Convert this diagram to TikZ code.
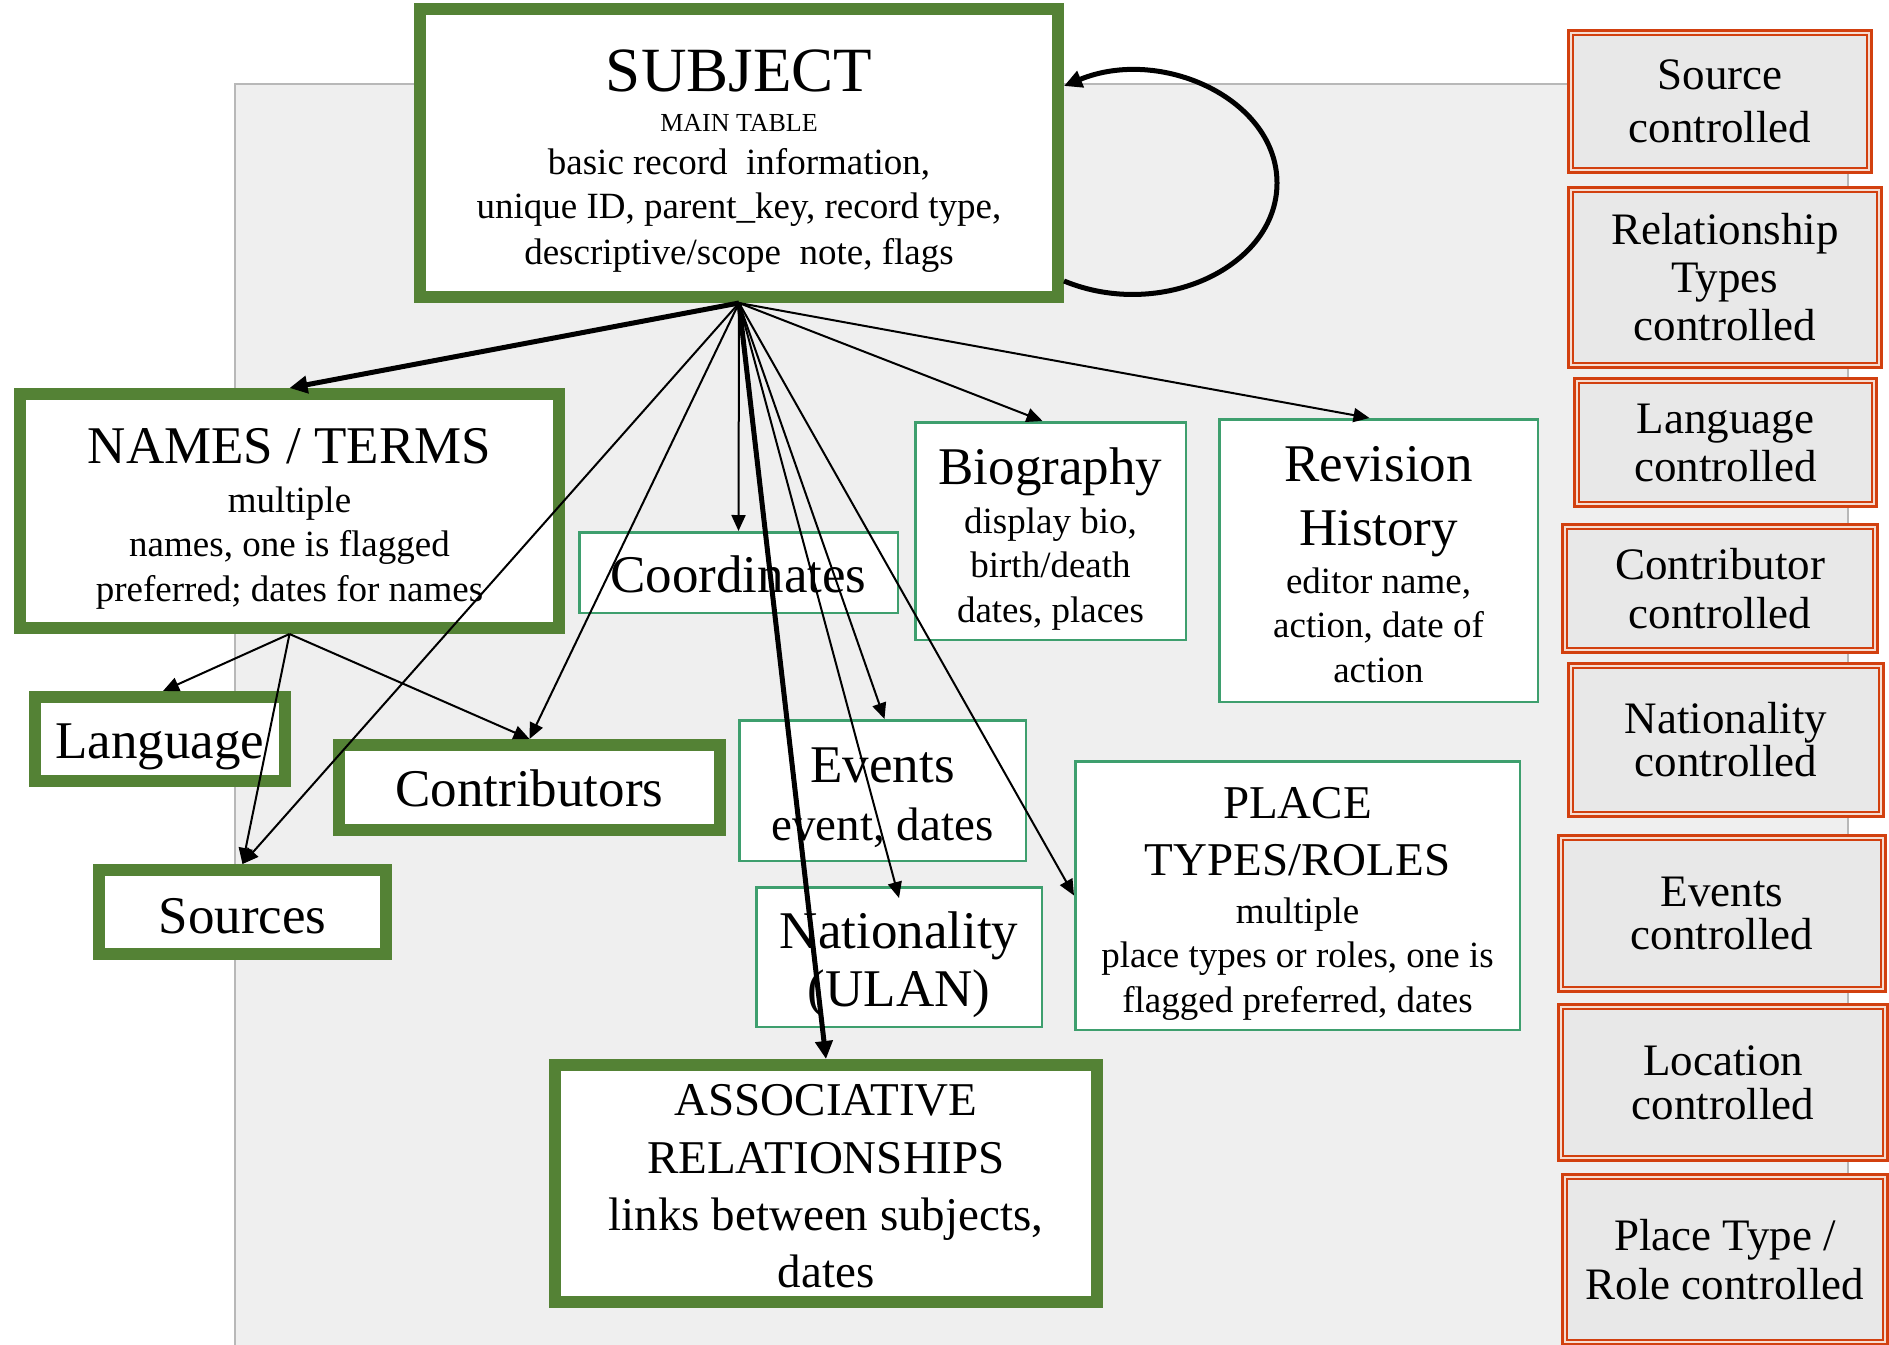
\documentclass[tikz,border=0pt]{standalone}
\usepackage{fontspec}
\setmainfont{Liberation Serif}
\usetikzlibrary{arrows.meta,calc}

\definecolor{boxgreen}{HTML}{548235}
\definecolor{thingreen}{HTML}{3E9F6E}
\definecolor{ctrlred}{HTML}{D2400F}
\definecolor{ctrlgap}{HTML}{F6DDD2}
\definecolor{panelfill}{HTML}{EFEFEF}
\definecolor{panelline}{HTML}{B8B8B8}
\definecolor{ctrlfill}{HTML}{E8E8E8}

\newcommand\fsz[2]{\fontsize{#1}{#2}\selectfont}

\begin{document}
\begin{tikzpicture}[x=1pt,y=-1pt,
  mainbox/.style={draw=boxgreen,line width=12pt,fill=white,inner sep=0pt},
  subbox/.style={draw=thingreen,line width=2.5pt,fill=white,inner sep=0pt},
  ctrlbox/.style={draw=ctrlred,double=ctrlgap,double distance=2pt,line width=2.6pt,
    fill=ctrlfill,inner sep=0pt,align=center},
  lbl/.style={inner sep=0pt,align=center,font=\fsz{37}{44.5}},
  link/.style={draw=black,line width=2pt,-{Triangle[length=16pt,width=14pt]}},
  heavy/.style={draw=black,line width=5pt,-{Triangle[length=18pt,width=17pt]}},
]
\useasboundingbox (0,0) rectangle (1889,1344);
\clip (0,0) rectangle (1889,1344);
\fill[white] (0,0) rectangle (1889,1344);

% grey background panel
\draw[draw=panelline,fill=panelfill,line width=2pt] (235,84) rectangle (1848,1400);

% ---- main tables (thick green frames)
\node[mainbox,minimum width=638pt,minimum height=288pt] (subj) at (739,153) {};
\node[lbl] (subj-lbl) at ([yshift=-1pt]subj.center)
  {{\fsz{63}{63}\rule{0pt}{56pt}SUBJECT}\\[-4.5pt]{\fsz{26}{26}MAIN TABLE}\\[-2pt]
   basic record\ \ information,\\
   unique ID, parent\_key, record type,\\[1.5pt]
   descriptive/scope\ \ note, flags};

\node[mainbox,minimum width=539pt,minimum height=234pt] (names) at (289.5,511) {};
\node[lbl] (names-lbl) at ([yshift=-8pt]names.center)
  {{\fsz{53}{53}NAMES / TERMS}\\[4pt]multiple\\names, one is flagged\\preferred; dates for names};

\node[mainbox,minimum width=250pt,minimum height=84pt] (lang) at (160,739) {};
\node[lbl,font=\fsz{53}{53}] (lang-lbl) at ([yshift=-8pt]lang.center) {Language};

\node[mainbox,minimum width=287pt,minimum height=84pt] (sources) at (242.5,912) {};
\node[lbl,font=\fsz{53}{53}] (sources-lbl) at ([yshift=-4pt]sources.center) {Sources};

\node[mainbox,minimum width=381pt,minimum height=85pt] (contrib) at (529.5,787.5) {};
\node[lbl,font=\fsz{53}{53}] (contrib-lbl) at ([yshift=-1pt]contrib.center) {Contributors};

\node[mainbox,minimum width=542pt,minimum height=237pt] (assoc) at (826,1183.5) {};
\node[lbl,font=\fsz{47}{57.3}] (assoc-lbl) at ([yshift=-3pt]assoc.center)
  {ASSOCIATIVE\\RELATIONSHIPS\\links between subjects,\\dates};

% ---- dependent tables (thin green frames)
\node[subbox,minimum width=318.5pt,minimum height=80.5pt] (coord) at (738.5,572.5) {};
\node[lbl,font=\fsz{53}{53}] (coord-lbl) at ([yshift=-2pt]coord.center) {Coordinates};

\node[subbox,minimum width=270.5pt,minimum height=217.5pt] (bio) at (1050.5,531) {};
\node[lbl] (bio-lbl) at ([yshift=-8pt]bio.center)
  {{\fsz{53}{53}Biography}\\[4.5pt]display bio,\\birth/death\\dates, places};

\node[subbox,minimum width=318.5pt,minimum height=282.5pt] (rev) at (1378.5,560.5) {};
\node[lbl] (rev-lbl) at ([yshift=-4pt]rev.center)
  {{\fsz{53}{53}Revision}\\[19.5pt]{\fsz{53}{53}History}\\[3pt]editor name,\\action, date of\\action};

\node[subbox,minimum width=286.5pt,minimum height=140.5pt] (events) at (882.5,790.5) {};
\node[lbl] (events-lbl) at ([yshift=-7pt]events.center)
  {{\fsz{53}{53}Events}\\[13pt]{\fsz{47}{47}event, dates}};

\node[subbox,minimum width=285.5pt,minimum height=139.5pt] (nat) at (899,957) {};
\node[lbl,font=\fsz{53}{58}] (nat-lbl) at ([yshift=-8pt]nat.center) {Nationality\\(ULAN)};

\node[subbox,minimum width=444.5pt,minimum height=268.5pt] (place) at (1297.5,895.5) {};
\node[lbl] (place-lbl) at ([yshift=-8pt]place.center)
  {{\fsz{47}{47}PLACE}\\[13pt]{\fsz{47}{47}TYPES/ROLES}\\[3pt]multiple\\place types or roles, one is\\flagged preferred, dates};

% ---- controlled vocabularies (double red frames)
\node[ctrlbox,font=\fsz{45}{53},minimum width=298.8pt,minimum height=137.8pt] (c-source) at (1720,101.5)
  {Source\\controlled};
\node[ctrlbox,font=\fsz{45}{48},minimum width=308.8pt,minimum height=175.8pt] (c-rel) at (1725,277.5)
  {Relationship\\Types\\controlled};
\node[ctrlbox,font=\fsz{45}{48},minimum width=297.8pt,minimum height=123.8pt] (c-lang) at (1725.5,442.5)
  {Language\\controlled};
\node[ctrlbox,font=\fsz{45}{49},minimum width=310.8pt,minimum height=123.8pt] (c-contrib) at (1720,588.5)
  {Contributor\\controlled};
\node[ctrlbox,font=\fsz{45}{43},minimum width=310.8pt,minimum height=148.8pt] (c-nat) at (1726,740)
  {Nationality\\controlled};
\node[ctrlbox,font=\fsz{45}{43},minimum width=322.8pt,minimum height=151.8pt] (c-events) at (1722,913.5)
  {Events\\controlled};
\node[ctrlbox,font=\fsz{45}{44},minimum width=324.8pt,minimum height=151.8pt] (c-loc) at (1723,1082.5)
  {Location\\controlled};
\node[ctrlbox,font=\fsz{45}{49},minimum width=320.8pt,minimum height=165.8pt] (c-place) at (1725,1259.5)
  {Place Type /\\Role controlled};

% ---- links from SUBJECT
\draw[heavy] (subj.south) -- (names.north);
\draw[link]  (subj.south) -- (sources.north);
\draw[link]  (subj.south) -- (contrib.north);
\draw[link]  (subj.south) -- (coord.north);
\draw[link]  (subj.south) -- ([xshift=2pt]events.north);
\draw[link]  (subj.south) -- ([yshift=-12pt]nat.north);
\draw[link]  (subj.south) -- (place.west);
\draw[link]  (subj.south) -- ([xshift=-8pt]bio.north);
\draw[link]  (subj.south) -- ([xshift=-9pt]rev.north);
\draw[heavy] (subj.south) -- (assoc.north);

% ---- links from NAMES / TERMS
\draw[link] (names.south) -- ([xshift=3pt]lang.north);
\draw[link] (names.south) -- (sources.north);
\draw[link] (names.south) -- (contrib.north);

% ---- hierarchy: SUBJECT refers to itself (parent_key)
\draw[heavy] ([yshift=22pt]subj.south east)
  .. controls (1161,321) and (1277,267) .. (1277,183)
  .. controls (1277,99) and (1161,46) .. ([yshift=-83pt]subj.north east);

\end{tikzpicture}
\end{document}
